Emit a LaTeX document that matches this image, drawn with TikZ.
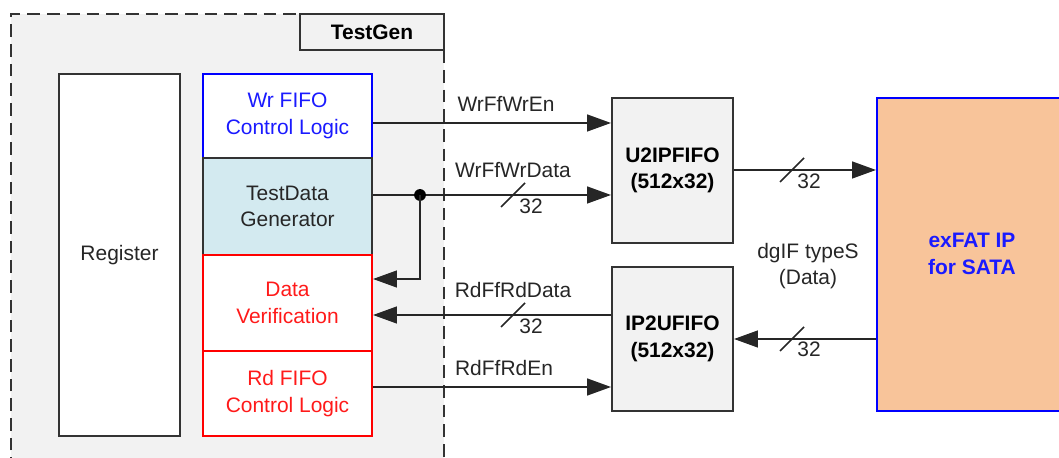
\documentclass[tikz,border=0pt]{standalone}
\usepackage{fontspec}
\setmainfont{Liberation Sans}
\usetikzlibrary{arrows.meta,calc}
\definecolor{bgray}{HTML}{F2F2F2}
\definecolor{tdblue}{HTML}{D3EAF0}
\definecolor{exorange}{HTML}{F8C49A}
\definecolor{tblue}{HTML}{1A1AFF}
\definecolor{tred}{HTML}{FF1A1A}
\definecolor{lgray}{HTML}{333333}
\begin{document}
\begin{tikzpicture}[x=0.025cm,y=-0.025cm,
  every node/.style={font=\fontsize{14.9pt}{18.9pt}\selectfont, align=center, inner sep=0pt},
  blk/.style={draw=lgray, line width=1.4pt, rectangle},
  arr/.style={draw=black!85, line width=1.2pt, -{Triangle[length=17pt,width=12pt]}},
  sig/.style={draw=black!85, line width=1.2pt},
  lbl/.style={text=black!85}]
\useasboundingbox (0,0) rectangle (1059,458);
% outer TestGen region
\fill[bgray] (11,14) rectangle (444,470);
\draw[lgray, line width=1.2pt, dash pattern=on 9pt off 5pt] (11,470) -- (11,14) -- (444,14) -- (444,470);
\node[blk, fill=bgray, minimum width=3.6cm, minimum height=0.9cm, font=\fontsize{14.9pt}{18.9pt}\selectfont\bfseries] (tg) at (372,32) {TestGen};
% Register
\node[blk, fill=white, text=black!85, minimum width=3.025cm, minimum height=9.05cm] (reg) at (119.5,255) {Register};
% stacked blocks
\node[blk, draw=blue, fill=white, text=tblue, minimum width=4.225cm, minimum height=2.1cm] (wr) at (287.5,116) {Wr FIFO\\Control Logic};
\node[blk, fill=tdblue, text=black!85, minimum width=4.225cm, minimum height=2.425cm] (td) at (287.5,206.5) {TestData\\Generator};
\node[blk, draw=red, fill=white, text=tred, minimum width=4.225cm, minimum height=2.4cm] (dv) at (287.5,303) {Data\\Verification};
\node[blk, draw=red, fill=white, text=tred, minimum width=4.225cm, minimum height=2.125cm] (rd) at (287.5,393.5) {Rd FIFO\\Control Logic};
% FIFOs
\node[blk, fill=bgray, minimum width=3.025cm, minimum height=3.625cm, font=\fontsize{14.9pt}{18.9pt}\selectfont\bfseries] (u2) at (672.5,170.5) {U2IPFIFO\\(512x32)};
\node[blk, fill=bgray, minimum width=3.025cm, minimum height=3.6cm, font=\fontsize{14.9pt}{18.9pt}\selectfont\bfseries] (ip) at (672.5,339) {IP2UFIFO\\(512x32)};
% exFAT
\node[blk, draw=blue, fill=exorange, minimum width=4.625cm, minimum height=7.825cm] (ex) at (969.5,254.5) {};
\node[text=tblue, font=\fontsize{14.9pt}{18.9pt}\selectfont\bfseries] (ext) at (972,254) {exFAT IP\\for SATA};
% coordinates for signal rows
\coordinate (y1) at (0,123);
\coordinate (y2) at (0,195);
\coordinate (y3) at (0,279);
\coordinate (y4) at (0,315);
\coordinate (y5) at (0,387);
\coordinate (y6) at (0,170);
\coordinate (y7) at (0,339);
\coordinate (j) at (420,195);
% signals
\draw[arr] (wr.east |- y1) -- (u2.west |- y1);
\draw[arr] (td.east |- y2) -- (u2.west |- y2);
\fill[black] (j) circle (4.2pt);
\draw[arr] (j) |- (dv.east |- y3);
\draw[arr] (ip.west |- y4) -- (dv.east |- y4);
\draw[arr] (rd.east |- y5) -- (ip.west |- y5);
\draw[arr] (u2.east |- y6) -- (ex.west |- y6);
\draw[arr] (ex.west |- y7) -- (ip.east |- y7);
% slashes
\draw[sig] (501,207) -- (525,183);
\draw[sig] (501,327) -- (525,303);
\draw[sig] (780,182) -- (804,158);
\draw[sig] (780,351) -- (804,327);
% labels
\node[lbl] (l1) at (506,104) {WrFfWrEn};
\node[lbl] (l2) at (513,170) {WrFfWrData};
\node[lbl] (l3) at (513,290) {RdFfRdData};
\node[lbl] (l4) at (504,368) {RdFfRdEn};
\node[lbl] (n1) at (531,206) {32};
\node[lbl] (n2) at (531,326) {32};
\node[lbl] (n3) at (809,181) {32};
\node[lbl] (n4) at (809,349) {32};
\node[lbl] (dg) at (808,266) {dgIF typeS\\(Data)};
\end{tikzpicture}
\end{document}
